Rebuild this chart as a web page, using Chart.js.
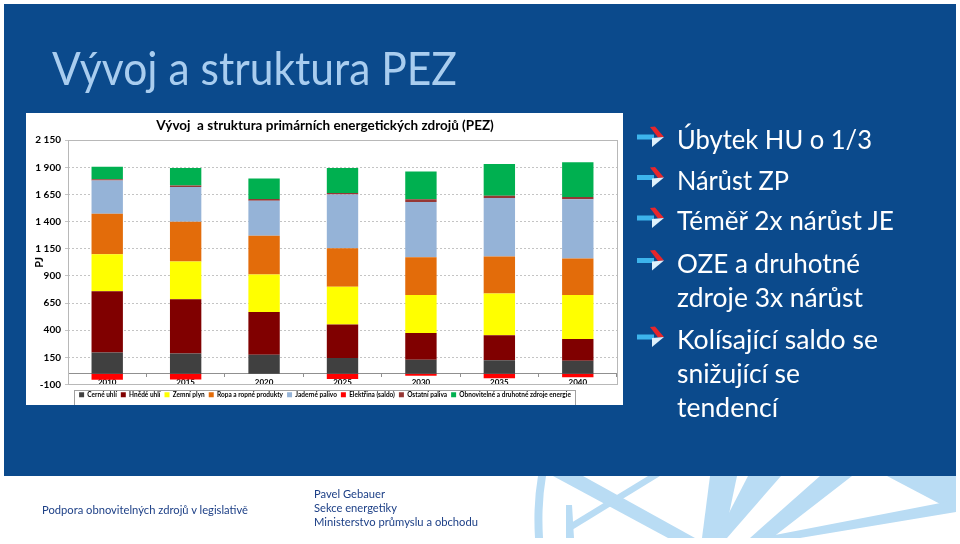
<!DOCTYPE html>
<html>
<head>
<meta charset="utf-8">
<script src="https://cdn.jsdelivr.net/npm/chart.js@4"></script>
<style>
  html, body { margin:0; padding:0; }
  body { width:960px; height:544px; position:relative; overflow:hidden; background:#ffffff; font-family: Lato, "Open Sans", sans-serif; }
  #slideBg { position:absolute; left:4px; top:4px; width:952px; height:472px; background:#0b4a8c; }
  #chartBox { position:absolute; left:26px; top:113px; width:597px; height:292px; background:#ffffff; }
  #overlay { position:absolute; left:0; top:0; width:960px; height:544px; pointer-events:none; }
</style>
</head>
<body>
<div id="slideBg"></div>
<div id="chartBox"><canvas id="c"></canvas></div>
<svg id="overlay" width="960" height="544" xmlns="http://www.w3.org/2000/svg">
  <defs>
    <g id="arrow">
      <rect x="-27" y="-2.5" width="17" height="5" fill="#3db4ec"/>
      <polygon points="-14,-10 -9,-10.5 0,0 -6,0.5" fill="#e8262b"/>
      <polygon points="-12,1 0,0 -12,10" fill="#dff1fc"/>
    </g>
  </defs>
  <text x="52" y="85" fill="#a9cdef" font-family="Lato" font-size="47" textLength="405" lengthAdjust="spacingAndGlyphs">Vývoj a struktura PEZ</text>

  <g fill="#ffffff" font-family="Lato" font-size="27.5">
    <text x="677" y="149" textLength="195" lengthAdjust="spacingAndGlyphs">Úbytek HU o 1/3</text>
    <text x="677" y="189.5" textLength="112" lengthAdjust="spacingAndGlyphs">Nárůst ZP</text>
    <text x="677" y="230" textLength="217" lengthAdjust="spacingAndGlyphs">Téměř 2x nárůst JE</text>
    <text x="677" y="272.5" textLength="183" lengthAdjust="spacingAndGlyphs">OZE a druhotné</text>
    <text x="677" y="306.5" textLength="186" lengthAdjust="spacingAndGlyphs">zdroje 3x nárůst</text>
    <text x="677" y="349" textLength="201" lengthAdjust="spacingAndGlyphs">Kolísající saldo se</text>
    <text x="677" y="383" textLength="123" lengthAdjust="spacingAndGlyphs">snižující se</text>
    <text x="677" y="416.5" textLength="101" lengthAdjust="spacingAndGlyphs">tendencí</text>
  </g>
  <use href="#arrow" x="664" y="137"/>
  <use href="#arrow" x="664" y="177.5"/>
  <use href="#arrow" x="664" y="218"/>
  <use href="#arrow" x="664" y="260.5"/>
  <use href="#arrow" x="664" y="337"/>

  <g fill="#b9dcf4">
    <path d="M538,476 L546,476 Q541,505 543,538 L535,538 Q533,505 538,476 Z"/>
    <polygon points="553,476 583,476 695,538 668,538"/>
    <polygon points="648,476 660,476 572,530 566,526"/>
    <polygon points="566,505 572,505 574,538 566,538"/>
    <polygon points="710,476 737,476 724,538 702,538"/>
    <polygon points="748,476 781,476 727,538 716,538"/>
    <polygon points="820,476 852,476 772,538 750,538"/>
    <polygon points="887,476 956,476 956,503 944,506"/>
    <polygon points="760,538 956,500 956,512 800,538"/>
  </g>

  <g fill="#1c3f86" font-family="Lato" font-size="12">
    <text x="42" y="514" textLength="206" lengthAdjust="spacingAndGlyphs">Podpora obnovitelných zdrojů v legislativě</text>
    <text x="314" y="498" textLength="71" lengthAdjust="spacingAndGlyphs">Pavel Gebauer</text>
    <text x="314" y="512" textLength="83" lengthAdjust="spacingAndGlyphs">Sekce energetiky</text>
    <text x="314" y="526" textLength="164" lengthAdjust="spacingAndGlyphs">Ministerstvo průmyslu a obchodu</text>
  </g>
</svg>
<script>
// ---- data (PJ) ----
const years = ['2010', '2015', '2020', '2025', '2030', '2035', '2040'];
const cerneUhli   = [195, 186, 175, 143, 127, 124, 118];
const hnedeUhli   = [564, 499, 393, 310, 248, 229, 201];
const zemniPlyn   = [341, 347, 344, 347, 350, 384, 406];
const ropa        = [372, 366, 359, 356, 347, 341, 335];
const jaderne     = [307, 322, 322, 493, 508, 539, 545];
const elektrina   = [-56, -53, -2, -50, -20, -43, -34];
const ostatni     = [12, 12, 15, 15, 25, 22, 22];
const obnovitelne = [115, 161, 189, 229, 257, 291, 319];

const seriesNames = ['Černé uhlí', 'Hnědé uhlí', 'Zemní plyn', 'Ropa a ropné produkty',
  'Jaderné palivo', 'Elektřina (saldo)', 'Ostatní paliva', 'Obnovitelné a druhotné zdroje energie'];
const seriesColors = ['#404040', '#800000', '#ffff00', '#e36c0a', '#95b3d7', '#ff0000', '#953735', '#00b050'];
const seriesData = [cerneUhli, hnedeUhli, zemniPlyn, ropa, jaderne, elektrina, ostatni, obnovitelne];

const yMin = -100, yMax = 2150, yStep = 250;
const chartTitle = 'Vývoj  a struktura primárních energetických zdrojů (PEZ)';
const yTitle = 'PJ';

function fmt(v) {
  return String(v).replace(/\B(?=(\d{3})+(?!\d))/g, ' ');
}

const LEGEND_SHIFT = 3;
const framePlugin = {
  id: 'frame',
  afterLayout(chart) {
    const lg = chart.legend;
    if (lg) {
      lg.top += LEGEND_SHIFT; lg.bottom += LEGEND_SHIFT;
      (lg.legendHitBoxes || []).forEach(h => { h.top += LEGEND_SHIFT; });
    }
  },
  afterDraw(chart) {
    const ctx = chart.ctx, a = chart.chartArea;
    ctx.save();
    ctx.strokeStyle = '#b8b8b8';
    ctx.lineWidth = 1;
    ctx.strokeRect(Math.round(a.left) + 0.5, Math.round(a.top) + 0.5, Math.round(a.right - a.left), Math.round(a.bottom - a.top));
    const boxes = chart.legend && chart.legend.legendHitBoxes;
    if (boxes && boxes.length) {
      let l = Infinity, r = -Infinity, t = Infinity, b = -Infinity;
      boxes.forEach(h => { l = Math.min(l, h.left); r = Math.max(r, h.left + h.width); t = Math.min(t, h.top); b = Math.max(b, h.top + h.height); });
      ctx.strokeStyle = '#a0a0a0';
      ctx.strokeRect(Math.round(l - 5) + 0.5, Math.round(t - 5) + 0.5, Math.round(r - l + 9), Math.round(b - t + 9));
    }
    ctx.restore();
  }
};

Chart.defaults.font.family = 'Lato, "Open Sans", sans-serif';

new Chart(document.getElementById('c'), {
  type: 'bar',
  data: {
    labels: years,
    datasets: seriesNames.map((n, i) => ({
      label: n,
      data: seriesData[i],
      backgroundColor: seriesColors[i],
      borderWidth: 0,
      barPercentage: 0.4,
      categoryPercentage: 1.0
    }))
  },
  options: {
    responsive: true,
    maintainAspectRatio: false,
    animation: false,
    layout: { padding: { left: 7, right: 6, top: 0, bottom: 0 } },
    plugins: {
      title: {
        display: true, text: chartTitle, color: '#000',
        font: { size: 13.5, weight: 'bold' },
        padding: { top: 5, bottom: 6 }
      },
      legend: {
        position: 'bottom',
        labels: {
          boxWidth: 5, boxHeight: 5, padding: 4, color: '#000',
          font: { size: 6.5, weight: 'bold' }
        }
      },
      tooltip: { enabled: false }
    },
    scales: {
      x: {
        stacked: true,
        position: { y: 0 },
        z: 1,
        grid: { display: true, drawOnChartArea: false, drawTicks: true, tickLength: 3, offset: true, color: '#909090' },
        border: { display: true, color: '#909090' },
        ticks: { color: '#000', font: { size: 8, weight: 'bold' }, padding: 1, maxRotation: 0 }
      },
      y: {
        stacked: true,
        min: yMin, max: yMax,
        grid: { color: '#c4c4c4', drawTicks: true, tickLength: 3 },
        border: { display: false, dash: [2, 2] },
        ticks: { stepSize: yStep, color: '#000', font: { size: 10, weight: 'bold' }, padding: 4, callback: v => fmt(v) },
        title: { display: true, text: yTitle, color: '#000', font: { size: 11, weight: 'bold' }, padding: 0 },
        afterFit(s) { s.width = 35; }
      }
    }
  },
  plugins: [framePlugin]
});
</script>
</body>
</html>
